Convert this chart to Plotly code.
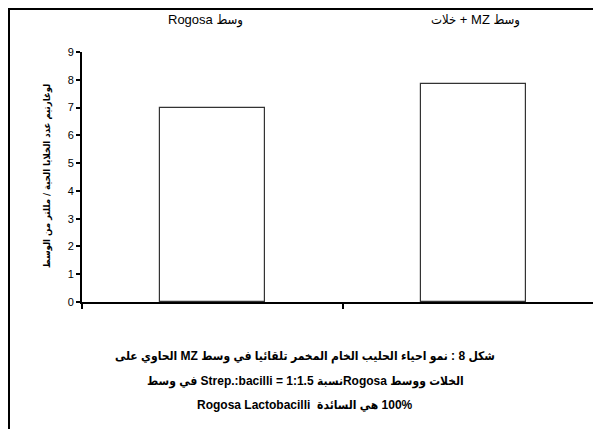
import plotly.graph_objects as go

categories = ["Rogosa", "MZ"]
values = [7.0, 7.85]
cat_labels = ["وسط Rogosa", "وسط MZ + خلات"]
y_title = "لوغارتيم عدد الخلايا الحية / مللتر من الوسط"
y_ticks = [0, 1, 2, 3, 4, 5, 6, 7, 8, 9]
caption_lines_rtl = [
    "شكل 8 : نمو احياء الحليب الخام المخمر تلقائيا في وسط MZ الحاوي على",
    "الخلات ووسط Rogosaنسبة 1:1.5 = Strep.:bacilli في وسط",
]
caption_line_ltr = "Rogosa Lactobacilli \u00a0هي السائدة\u200e 100%"


def rtl(s):
    return "\u202b" + s + "\u202c"


W, H = 601, 429
OFF = 8  # page body margin of the browser; positions below are window pixels
L, R, T, B = 82, 604, 52, 302  # plot area in window px


def fx(x):
    return x - OFF


def fy(y):
    return y - OFF


pw, ph = R - L, B - T


def px(x):
    return (x - L) / pw


def py(y):
    return (B - y) / ph


cat_w = (R - L) / 2

fig = go.Figure()
fig.add_trace(go.Bar(
    x=categories, y=values, width=105 / cat_w,
    marker=dict(color="white", line=dict(color="#333333", width=1.2)),
    showlegend=False, hoverinfo="skip",
))

font_main = "Liberation Sans, DejaVu Sans Condensed, sans-serif"

fig.update_layout(
    width=W, height=H,
    margin=dict(l=fx(L), r=W - fx(R), t=fy(T), b=H - fy(B), autoexpand=False),
    paper_bgcolor="white", plot_bgcolor="white",
    font=dict(family=font_main, color="black", size=11),
    xaxis=dict(
        type="category", range=[-0.5, 1.5], showticklabels=False,
        showline=True, linecolor="black", linewidth=2,
        ticks="outside", tickson="boundaries", ticklen=5, tickwidth=2, tickcolor="black",
        showgrid=False, zeroline=False, fixedrange=True,
    ),
    yaxis=dict(
        range=[0, 9], tickvals=y_ticks, ticks="outside", ticklen=4, tickwidth=2,
        tickcolor="black", showline=True, linecolor="black", linewidth=2,
        showgrid=False, zeroline=False, tickfont=dict(size=11, family=font_main),
        fixedrange=True,
    ),
    bargap=0,
)

# category labels at top
label_x = [205, 475]
for lab, lx in zip(cat_labels, label_x):
    fig.add_annotation(
        x=px(lx), y=py(20), xref="paper", yref="paper",
        text=rtl(lab), showarrow=False,
        font=dict(size=13, family=font_main), xanchor="center", yanchor="middle",
    )

# y axis title
fig.add_annotation(
    x=px(47), y=py(176), xref="paper", yref="paper", text="<b>" + rtl(y_title) + "</b>",
    textangle=-90, showarrow=False, font=dict(size=9.5, family="DejaVu Sans Condensed"),
    xanchor="center", yanchor="middle",
)

# caption
cap_texts = [rtl(s) for s in caption_lines_rtl] + [caption_line_ltr]
cap_y = [356, 381, 405]
for line, yy in zip(cap_texts, cap_y):
    fig.add_annotation(
        x=px(305), y=py(yy), xref="paper", yref="paper",
        text="<b>" + line + "</b>", showarrow=False,
        font=dict(size=12, family=font_main), xanchor="center", yanchor="middle",
    )

# outer frame lines (top line sits as high as the page allows)
fig.add_shape(type="line", xref="paper", yref="paper",
              x0=px(9), x1=px(620), y0=py(OFF + 1), y1=py(OFF + 1),
              line=dict(color="black", width=2))
fig.add_shape(type="line", xref="paper", yref="paper",
              x0=px(9), x1=px(9), y0=py(OFF), y1=py(440),
              line=dict(color="black", width=2))

fig.write_html("out.html")
